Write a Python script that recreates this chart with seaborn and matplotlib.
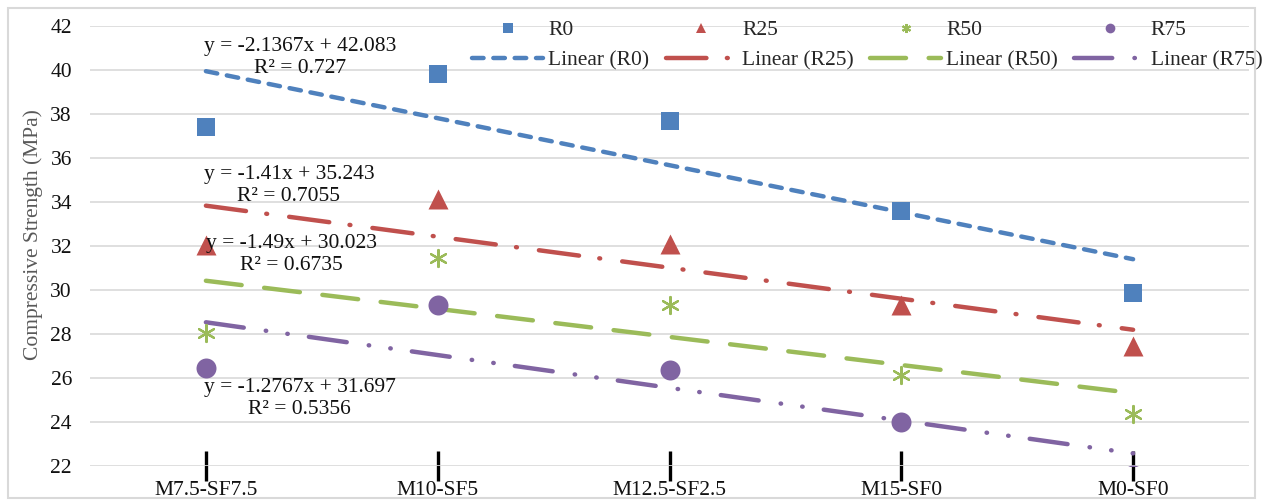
import numpy as np
import pandas as pd
import matplotlib
matplotlib.use("Agg")
import matplotlib.pyplot as plt
from matplotlib.lines import Line2D
from matplotlib.patches import Rectangle
import seaborn as sns

# mixes on the x axis
mixes = ['M7.5-SF7.5', 'M10-SF5', 'M12.5-SF2.5', 'M15-SF0', 'M0-SF0']
series = ['R0', 'R25', 'R50', 'R75']

# compressive strength (MPa)
r0 = [37.4, 39.8, 37.7, 33.6, 29.85]
r25 = [32.05, 34.15, 32.1, 29.3, 27.45]
r50 = [28.05, 31.45, 29.3, 26.15, 24.35]
r75 = [26.45, 29.3, 26.35, 24.0, 21.6]  # last one sits below the axis minimum

# excel linear trendline coefficients per series
trend_slope = [-2.1367, -1.41, -1.2767, -1.49]
trend_intercept = [42.083, 35.243, 31.697, 30.023]

# equation boxes as printed on the chart (top to bottom)
eq_text = ['y = -2.1367x + 42.083\nR² = 0.727',
           'y = -1.41x + 35.243\nR² = 0.7055',
           'y = -1.49x + 30.023\nR² = 0.6735',
           'y = -1.2767x + 31.697\nR² = 0.5356']
eq_pos = [(0.99, 40.58), (0.99, 34.76), (1.0, 31.6), (0.99, 25.08)]

y_ticks = list(range(22, 43, 2))

colors = ['#4F81BD', '#C0504D', '#9BBB59', '#8064A2']
markers = ['s', '^', (6, 2, 0), 'o']
marker_size = [169, 207, 150, 207]
legend_ms = [6.5, 7, 6.5, 7]
dash_seq = [(2.6, 2.2), (9.1, 4.6, 0.2, 5.0), (8.1, 5.1), (8.6, 5.0, 0.1, 4.8, 0.1, 4.8)]
FS = 15.5

sns.set_style('white')
plt.rcParams['font.family'] = ['Liberation Serif', 'DejaVu Serif']

x_pos = np.arange(1, len(mixes) + 1)
df = pd.DataFrame({'mix': np.tile(x_pos, 4),
                   'series': np.repeat(series, len(mixes)),
                   'strength': r0 + r25 + r50 + r75})

fig = plt.figure(figsize=(12.74, 5.0), dpi=100)
ax = fig.add_axes([90 / 1274, 34 / 500, 1159 / 1274, 440 / 500])

handles = []
for i, name in enumerate(series):
    sub = df[df['series'] == name]
    sns.scatterplot(data=sub, x='mix', y='strength', ax=ax, marker=markers[i],
                    s=marker_size[i], color=colors[i], edgecolor=colors[i],
                    linewidth=1.6 if i == 2 else 0, zorder=3, legend=False)
    trend = trend_slope[i] * x_pos + trend_intercept[i]
    sns.lineplot(x=x_pos, y=trend, ax=ax, color=colors[i], lw=3.2, zorder=2)
    ln = ax.lines[-1]
    ln.set_dashes(dash_seq[i])
    ln.set_dash_capstyle('round')

    mk = Line2D([], [], ls='none', marker=markers[i], color=colors[i],
                markeredgecolor=colors[i], markersize=legend_ms[i],
                markeredgewidth=1.5 if i == 2 else 0)
    lh = Line2D([], [], color=colors[i], lw=3.2, dashes=dash_seq[i],
                dash_capstyle='round')
    handles += [mk, lh]

# hidden point below 22 must stay clipped like in excel
for coll in ax.collections:
    coll.set_clip_on(True)
    coll.set_clip_box(ax.bbox)

labels = []
for name in series:
    labels += [name, f'Linear ({name})']

for txt, (ex, ey) in zip(eq_text, eq_pos):
    ax.text(ex, ey, txt, fontsize=FS, ha='left', va='center',
            multialignment='center', linespacing=1.2, color='#111111', zorder=4)

ax.set_xlim(0.5, 5.5)
ax.set_ylim(22, 42)
ax.set_yticks(y_ticks)
ax.set_xticks(x_pos)
ax.set_xticklabels(mixes)
ax.grid(axis='y', color='#D9D9D9', lw=1.2)
ax.set_axisbelow(True)
for s in ax.spines.values():
    s.set_visible(False)
ax.tick_params(axis='y', left=False, length=0, pad=13, labelsize=FS, labelcolor='#111111')
ax.tick_params(axis='x', bottom=True, direction='inout', length=21, width=2.4,
               color='black', pad=0.5, labelsize=FS, labelcolor='#111111')
ax.set_xlabel('')
ax.set_ylabel('Compressive Strength (MPa)', fontsize=FS, color='#595959')
ax.yaxis.set_label_coords((33 - 90) / 1159, 0.527)
ax.yaxis.label.set_va('center')

ax.legend(handles, labels, ncol=4, loc='upper left', frameon=False,
          bbox_to_anchor=(472 / 1274, 1 - 20 / 500), bbox_transform=fig.transFigure,
          fontsize=FS, handlelength=3.3, handletextpad=0.25, columnspacing=0.75,
          labelspacing=0.5, borderpad=0, borderaxespad=0)

fig.patches.append(Rectangle((8 / 1274, 2 / 500), 1247 / 1274, 490 / 500,
                             transform=fig.transFigure, fill=False,
                             ec='#D9D9D9', lw=1.5))

fig.savefig('out.png', dpi=100)
